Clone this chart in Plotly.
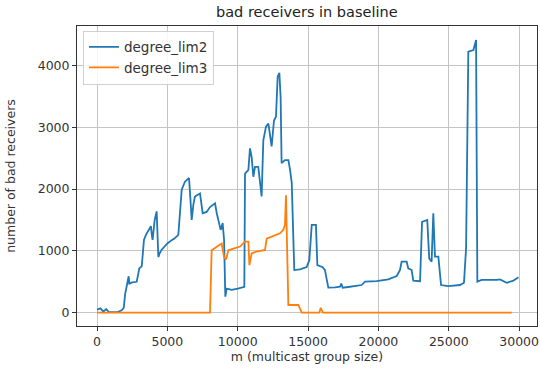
import plotly.graph_objects as go

# degree_lim2 series (m, bad receivers)
lim2_m = [0, 250, 450, 650, 850, 1200, 1500, 1750, 1900, 2000, 2060, 2150, 2250, 2300, 2500,
          2820, 2950, 3010, 3180, 3300, 3340, 3480, 3720, 3830, 3900, 3950, 4100, 4240, 4360,
          4450, 4600, 4800, 5000, 5280, 5500, 5780, 5900, 6020, 6250, 6540, 6650, 6730, 6850,
          6960, 7320, 7510, 7790, 8030, 8390, 8510, 8790, 8930, 9030, 9120, 9220, 9570, 10010,
          10470, 10520, 10760, 10870, 10990, 11110, 11230, 11460, 11700, 11820, 12010, 12180,
          12300, 12410, 12580, 12720, 12840, 12960, 13050, 13120, 13360, 13600, 13720, 13840,
          14020, 14430, 14900, 15090, 15260, 15560, 15660, 16040, 16200, 16440, 16920, 17270,
          17360, 17460, 17980, 18810, 19050, 19870, 20700, 21300, 21530, 21650, 22010, 22120,
          22360, 22480, 22960, 23100, 23470, 23610, 23780, 23900, 24020, 24260, 24450, 24960,
          25800, 26080, 26230, 26390, 26750, 26870, 26940, 27030, 27340, 28400, 28640, 29120,
          29590, 29950]
lim2_val = [50, 70, 15, 60, 10, 15, 15, 40, 80, 300, 370, 450, 590, 470, 490,
            500, 620, 720, 750, 1050, 1180, 1260, 1370, 1400, 1250, 1180, 1500, 1640, 900,
            960, 1020, 1080, 1120, 1170, 1200, 1260, 1700, 1990, 2120, 2180, 1800, 1500, 1750,
            1880, 1930, 1610, 1630, 1710, 1770, 1610, 1340, 1450, 1180, 260, 390, 370, 390,
            420, 2250, 2310, 2660, 2520, 2200, 2360, 2360, 1880, 2790, 3010, 3060,
            2900, 2690, 3110, 3170, 3820, 3880, 3490, 2420, 2470, 2470, 2310, 2100,
            690, 700, 740, 850, 1420, 1420, 770, 735, 690, 405, 410, 420,
            470, 405, 420, 448, 502, 510, 540, 594, 690, 825, 825, 718,
            690, 518, 510, 1470, 1500, 880, 825, 1608, 906, 906, 448, 430,
            448, 485, 1042, 4223, 4250, 4385, 4413, 502, 530, 530, 540, 485,
            518, 573]

# degree_lim3 series
lim3_m = [0, 8030, 8150, 8510, 8860, 9030, 9170, 9330, 9690, 10170, 10520, 10760, 10830,
          10990, 11340, 11940, 12060, 12410, 13010, 13240, 13360, 13430, 13600, 14310, 14550,
          15800, 15900, 16050, 29470]
lim3_val = [0, 0, 1010, 1060, 1120, 900, 860, 1010, 1040, 1070, 1150, 1150, 770,
            960, 990, 1015, 1200, 1230, 1285, 1340, 1420, 1900, 125, 125, 0,
            0, 80, 0, 0]

x_ticks = [0, 5000, 10000, 15000, 20000, 25000, 30000]
y_ticks = [0, 1000, 2000, 3000, 4000]

title_text = "bad receivers in baseline"
x_label = "m (multicast group size)"
y_label = "number of bad receivers"

FONT = "DejaVu Sans"
fig = go.Figure()
fig.add_trace(go.Scatter(x=lim2_m, y=lim2_val, mode="lines", name="degree_lim2",
                         line=dict(color="#1f77b4", width=1.8)))
fig.add_trace(go.Scatter(x=lim3_m, y=lim3_val, mode="lines", name="degree_lim3",
                         line=dict(color="#ff7f0e", width=1.8)))

axis_common = dict(showline=True, mirror=True, linecolor="#333333", linewidth=1,
                   ticks="outside", ticklen=4, tickcolor="#333333", automargin=False,
                   showgrid=True, gridcolor="#c4c4c4", gridwidth=1, zeroline=False,
                   tickfont=dict(family=FONT, size=12.5, color="#333333"))

fig.update_layout(
    width=540, height=372,
    margin=dict(l=77, r=3, t=26, b=46, autoexpand=False),
    paper_bgcolor="white", plot_bgcolor="white",
    title=dict(text=title_text, x=0.5682, xanchor="center", y=0.967, yanchor="middle",
               font=dict(family=FONT, size=14.5, color="#222222")),
    xaxis=dict(range=[-1421, 31270], tickvals=x_ticks, ticktext=[str(v) for v in x_ticks],
               title=dict(text=x_label, font=dict(family=FONT, size=12.5, color="#333333"), standoff=3),
               **axis_common),
    yaxis=dict(range=[-215, 4639], tickvals=y_ticks, ticktext=[str(v) for v in y_ticks],
               title=dict(text=y_label, font=dict(family=FONT, size=12.5, color="#333333"), standoff=19),
               **axis_common),
    legend=dict(x=0.013, y=0.985, xanchor="left", yanchor="top",
                bgcolor="rgba(255,255,255,0.85)", bordercolor="#d0d0d0", borderwidth=1,
                font=dict(family=FONT, size=13.5, color="#333333"), tracegroupgap=2),
    showlegend=True,
)
fig.write_html("out.html", config={"displayModeBar": False},
               post_script="document.body.style.margin='0';")
